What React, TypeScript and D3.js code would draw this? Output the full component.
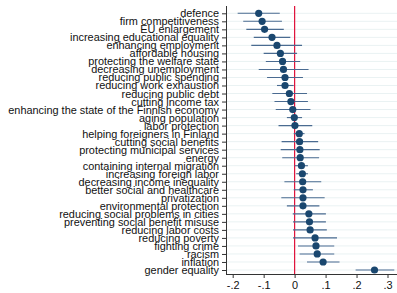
import { useEffect, useRef } from "react"
import * as d3 from "d3"

const categories = [
  "defence",
  "firm competitiveness",
  "EU enlargement",
  "increasing educational equality",
  "enhancing employment",
  "affordable housing",
  "protecting the welfare state",
  "decreasing unemployment",
  "reducing public spending",
  "reducing work exhaustion",
  "reducing public debt",
  "cutting income tax",
  "enhancing the state of the Finnish economy",
  "aging population",
  "labor protection",
  "helping foreigners in Finland",
  "cutting social benefits",
  "protecting municipal services",
  "energy",
  "containing internal migration",
  "increasing foreign labor",
  "decreasing income inequality",
  "better social and healthcare",
  "privatization",
  "environmental protection",
  "reducing social problems in cities",
  "preventing social benefit misuse",
  "reducing labor costs",
  "reducing poverty",
  "fighting crime",
  "racism",
  "inflation",
  "gender equality",
]

const estimates = [
  -0.116, -0.105, -0.097, -0.073, -0.057, -0.046, -0.039, -0.036, -0.031, -0.031, -0.017,
  -0.012, -0.006, -0.001, 0.001, 0.015, 0.016, 0.017, 0.018, 0.022, 0.025, 0.026, 0.027,
  0.027, 0.027, 0.046, 0.048, 0.05, 0.066, 0.069, 0.073, 0.092, 0.258,
]

const lower = [
  -0.184, -0.166, -0.156, -0.132, -0.14, -0.1, -0.093, -0.116, -0.089, -0.057, -0.072,
  -0.065, -0.061, -0.025, -0.052, -0.003, -0.042, -0.045, -0.04, 0.0, 0.005, -0.033, -0.003,
  -0.043, -0.025, -0.006, -0.005, -0.005, -0.005, 0.011, 0.016, 0.04, 0.197,
]

const upper = [
  -0.048, -0.041, -0.035, -0.014, 0.024, 0.008, 0.018, 0.045, 0.027, -0.003, 0.04, 0.043,
  0.051, 0.024, 0.057, 0.032, 0.076, 0.081, 0.079, 0.043, 0.043, 0.086, 0.059, 0.097, 0.08,
  0.101, 0.101, 0.104, 0.137, 0.128, 0.128, 0.145, 0.322,
]

const xTicks = [-0.2, -0.1, 0, 0.1, 0.2, 0.3]

export default function App() {
  const svgRef = useRef<SVGSVGElement>(null)

  useEffect(() => {
    if (!svgRef.current) return
    document.body.style.margin = "0"

    const svg = d3.select(svgRef.current)
    svg.selectAll("*").remove()

    const width = 397
    const height = 293
    const plotLeft = 226
    const plotRight = 397
    const plotTop = 6
    const plotBottom = 274
    const font = "'Liberation Sans', Arial, sans-serif"

    const x = d3.scaleLinear().domain([-0.2, 0.3]).range([232.7, 387.5])
    const y = d3.scalePoint<string>().domain(categories).range([13.3, 270])

    const rows = categories.map((c, i) => ({
      name: c,
      est: estimates[i],
      lo: lower[i],
      hi: upper[i],
    }))

    svg.attr("width", width).attr("height", height)
    svg.append("rect").attr("width", width).attr("height", height).attr("fill", "white")

    // grid lines
    svg
      .append("g")
      .selectAll("line")
      .data(categories)
      .enter()
      .append("line")
      .attr("x1", plotLeft)
      .attr("x2", plotRight)
      .attr("y1", (d) => y(d)!)
      .attr("y2", (d) => y(d)!)
      .attr("stroke", "#eaf2f3")
      .attr("stroke-width", 1)

    // zero line
    svg
      .append("line")
      .attr("x1", x(0))
      .attr("x2", x(0))
      .attr("y1", plotTop)
      .attr("y2", plotBottom)
      .attr("stroke", "#e0103a")
      .attr("stroke-width", 1.2)

    // confidence intervals
    svg
      .append("g")
      .selectAll("line")
      .data(rows)
      .enter()
      .append("line")
      .attr("x1", (d) => x(d.lo))
      .attr("x2", (d) => x(d.hi))
      .attr("y1", (d) => y(d.name)!)
      .attr("y2", (d) => y(d.name)!)
      .attr("stroke", "#4a6b91")
      .attr("stroke-width", 1.1)

    // points
    svg
      .append("g")
      .selectAll("circle")
      .data(rows)
      .enter()
      .append("circle")
      .attr("cx", (d) => x(d.est))
      .attr("cy", (d) => y(d.name)!)
      .attr("r", 3.6)
      .attr("fill", "#1a476f")

    // y axis
    const yAxis = svg
      .append("g")
      .attr("transform", `translate(${plotLeft},0)`)
      .call(d3.axisLeft(y).tickSize(4).tickPadding(3))
    yAxis.select(".domain").attr("d", `M0.5,${plotTop}V${plotBottom}`).attr("stroke", "#333")
    yAxis.selectAll(".tick line").attr("stroke", "#333")
    yAxis
      .selectAll("text")
      .attr("fill", "#111")
      .attr("font-size", "10.9px")
      .attr("font-family", font)

    // x axis
    const xAxis = svg
      .append("g")
      .attr("transform", `translate(0,${plotBottom})`)
      .call(
        d3
          .axisBottom(x)
          .tickValues(xTicks)
          .tickSize(4)
          .tickPadding(3)
          .tickFormat((d) => {
            const v = +d
            if (v === 0) return "0"
            return (v < 0 ? "-" : "") + Math.abs(v).toFixed(1).replace(/^0/, "")
          }),
      )
    xAxis.select(".domain").attr("d", `M${plotLeft},0.5H${plotRight}`).attr("stroke", "#333")
    xAxis.selectAll(".tick line").attr("stroke", "#333")
    xAxis
      .selectAll("text")
      .attr("fill", "#111")
      .attr("font-size", "10.9px")
      .attr("font-family", font)
  }, [])

  return <svg ref={svgRef} style={{ display: "block" }} />
}
